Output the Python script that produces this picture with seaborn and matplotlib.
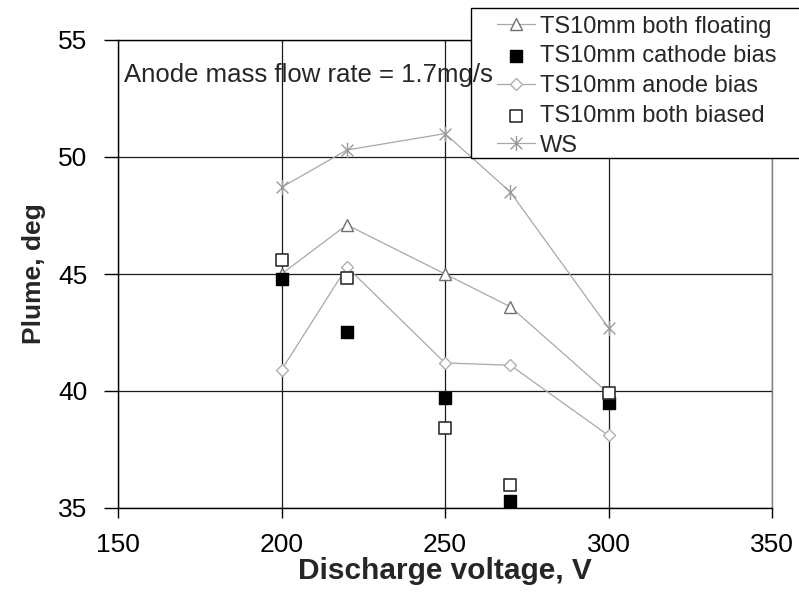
import matplotlib
matplotlib.use('Agg')
import matplotlib.pyplot as plt
from matplotlib.path import Path
from matplotlib.patches import Rectangle
import seaborn as sns

# data
voltage = [200, 220, 250, 270, 300]
both_floating = [45.0, 47.1, 45.0, 43.6, 39.9]
cathode_bias = [44.8, 42.5, 39.7, 35.3, 39.5]
anode_bias = [40.9, 45.3, 41.2, 41.1, 38.1]
both_biased = [45.6, 44.85, 38.4, 36.0, 39.9]
ws = [48.7, 50.3, 51.0, 48.5, 42.7]

labels = ['TS10mm both floating', 'TS10mm cathode bias', 'TS10mm anode bias',
          'TS10mm both biased', 'WS']
note = 'Anode mass flow rate = 1.7mg/s'

sns.set_style('white')
plt.rcParams['font.family'] = ['Liberation Sans', 'DejaVu Sans']

# excel-like star: x with a vertical bar
star = Path([(-1, -1), (1, 1), (-1, 1), (1, -1), (0, -1.3), (0, 1.3)],
            [Path.MOVETO, Path.LINETO, Path.MOVETO, Path.LINETO, Path.MOVETO, Path.LINETO])

fig = plt.figure(figsize=(7.99, 5.96), dpi=100)
ax = fig.add_axes([118 / 799, 1 - 508 / 596, 654 / 799, 468 / 596])

line_col = '#a8a8a8'
sns.lineplot(x=voltage, y=both_floating, ax=ax, color=line_col, lw=0.9, errorbar=None,
             marker='^', markersize=9, markerfacecolor='white', markeredgecolor='#707070',
             markeredgewidth=1, label=labels[0], zorder=2)
sns.lineplot(x=voltage, y=anode_bias, ax=ax, color=line_col, lw=0.9, errorbar=None,
             marker='D', markersize=6.5, markerfacecolor='white', markeredgecolor='#b0b0b0',
             markeredgewidth=1, label=labels[2], zorder=2)
sns.lineplot(x=voltage, y=ws, ax=ax, color=line_col, lw=0.9, errorbar=None,
             marker=star, markersize=11, markerfacecolor='none', markeredgecolor='#9a9a9a',
             markeredgewidth=1, label=labels[4], zorder=2)
sns.scatterplot(x=voltage, y=cathode_bias, ax=ax, marker='s', s=80, color='black',
                edgecolor='black', linewidth=1, label=labels[1], zorder=3)
sns.scatterplot(x=voltage, y=both_biased, ax=ax, marker='s', s=80, color='white',
                edgecolor='#303030', linewidth=1.2, label=labels[3], zorder=3)

ax.set_xlim(150, 350)
ax.set_ylim(35, 55)
ax.set_xticks([150, 200, 250, 300, 350])
ax.set_yticks([35, 40, 45, 50, 55])
ax.grid(True, color='#1a1a1a', lw=0.9)
ax.set_axisbelow(True)
for side in ['left', 'bottom', 'top']:
    ax.spines[side].set_color('black')
    ax.spines[side].set_linewidth(1)
ax.spines['right'].set_color('#808080')
ax.spines['right'].set_linewidth(1)

ax.tick_params(axis='x', bottom=True, direction='out', length=7, width=1,
               pad=11, labelsize=19, colors='black')
ax.tick_params(axis='y', left=True, direction='out', length=10, width=1,
               pad=12, labelsize=19, colors='black')
ax.set_xlabel('Discharge voltage, V', fontsize=21.5, fontweight='bold', labelpad=0)
ax.set_ylabel('Plume, deg', fontsize=19, fontweight='bold', labelpad=9)

ax.text(151.8, 53.2, note, fontsize=18.5, va='baseline', ha='left', zorder=6)

# legend box hanging off the top right corner
box = Rectangle((471 / 799, 1 - 158 / 596), 340 / 799, 150 / 596, transform=fig.transFigure,
                facecolor='white', edgecolor='black', lw=1, clip_on=False, zorder=4)
ax.add_artist(box)

handles, labs = ax.get_legend_handles_labels()
order = [labs.index(l) for l in labels]
ax.legend([handles[i] for i in order], labels, loc='upper left',
          bbox_to_anchor=(497 / 799, 1 - 15.5 / 596), bbox_transform=fig.transFigure,
          frameon=False, fontsize=17, handlelength=1.6, handletextpad=0.2,
          labelspacing=0.33, borderpad=0, borderaxespad=0)

fig.savefig('out.png', dpi=100)
